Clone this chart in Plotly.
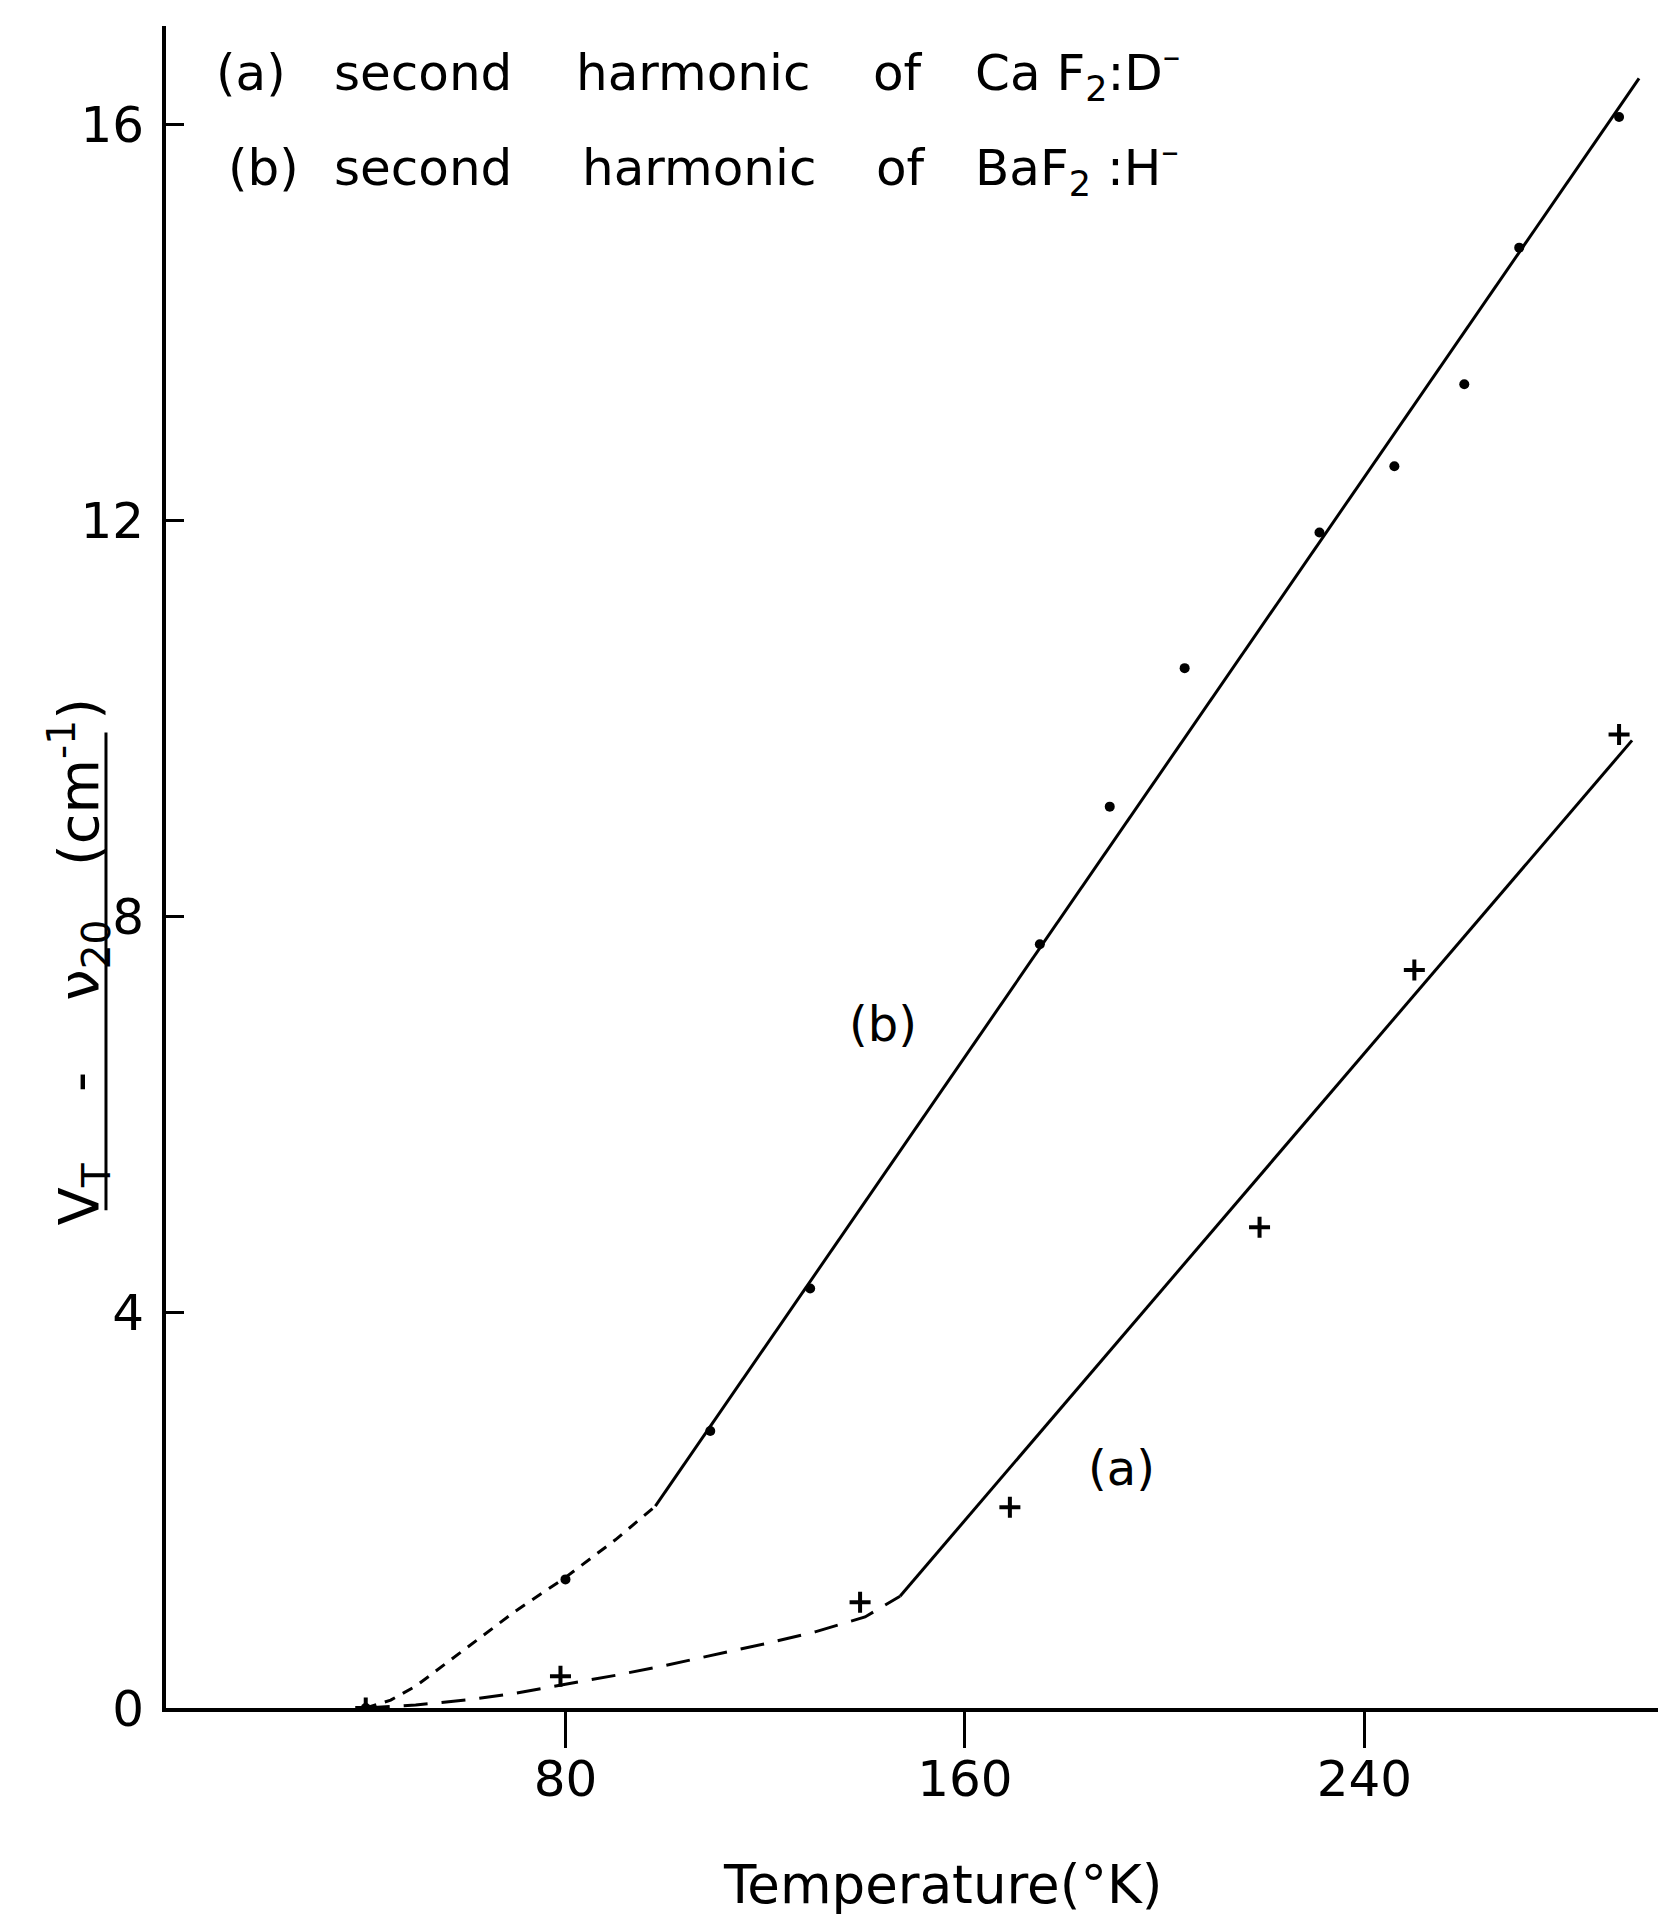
import plotly.graph_objects as go

# ---- data ----
x_ticks = [80, 160, 240]
y_ticks = [0, 4, 8, 12, 16]

# (b) second harmonic of BaF2:H-  (dots)
b_T = [40, 80, 109, 129, 175, 189, 204, 231, 246, 260, 271, 291]
b_dv = [0.0, 1.3, 2.8, 4.24, 7.72, 9.11, 10.51, 11.88, 12.55, 13.38, 14.76, 16.08]
# (a) second harmonic of CaF2:D-  (crosses)
a_T = [40, 79, 139, 169, 219, 250, 291]
a_dv = [0.0, 0.32, 1.07, 2.03, 4.86, 7.46, 9.84]

# drawn curves
b_dash_T = [40, 45, 50, 60, 70, 80, 90, 98]
b_dash_v = [0.0, 0.08, 0.22, 0.6, 0.98, 1.32, 1.7, 2.04]
b_fit_T = [98, 295]
b_fit_v = [2.04, 16.47]
a_dash_T = [40, 50, 60, 70, 80, 90, 100, 110, 120, 130, 140, 147]
a_dash_v = [0.0, 0.03, 0.08, 0.15, 0.24, 0.33, 0.43, 0.54, 0.65, 0.77, 0.92, 1.13]
a_fit_T = [147, 293.6]
a_fit_v = [1.13, 9.78]

FONT = "DejaVu Sans, sans-serif"
BLACK = "#000000"
NB = "\u00a0"

fig = go.Figure()
fig.add_trace(go.Scatter(x=b_dash_T, y=b_dash_v, mode="lines",
                         line=dict(color=BLACK, width=3, dash="11px,9px"), hoverinfo="skip"))
fig.add_trace(go.Scatter(x=b_fit_T, y=b_fit_v, mode="lines",
                         line=dict(color=BLACK, width=3), hoverinfo="skip"))
fig.add_trace(go.Scatter(x=a_dash_T, y=a_dash_v, mode="lines",
                         line=dict(color=BLACK, width=3, dash="24px,14px"), hoverinfo="skip"))
fig.add_trace(go.Scatter(x=a_fit_T, y=a_fit_v, mode="lines",
                         line=dict(color=BLACK, width=3), hoverinfo="skip"))
fig.add_trace(go.Scatter(x=b_T, y=b_dv, mode="markers",
                         marker=dict(symbol="circle", size=10, color=BLACK)))
fig.add_trace(go.Scatter(x=a_T, y=a_dv, mode="markers",
                         marker=dict(symbol="cross-thin", size=15,
                                     line=dict(color=BLACK, width=4), color=BLACK)))

# legend text written inside the plot (word by word, wide spacing as in the original)
words_a = [("(a)", 17.0), ("second", 51.5), ("harmonic", 105.5), ("of", 146.6),
           ("Ca" + NB + "F<sub>2</sub>:D<sup>–</sup>", 182.5)]
words_b = [("(b)", 19.5), ("second", 51.5), ("harmonic", 106.8), ("of", 147.1),
           ("BaF<sub>2</sub>" + NB + ":H<sup>–</sup>", 182.5)]
for txt, xx in words_a:
    fig.add_annotation(x=xx, y=16.52, xref="x", yref="y", text=txt, showarrow=False,
                       xanchor="center", yanchor="middle",
                       font=dict(family=FONT, size=50, color=BLACK))
for txt, xx in words_b:
    fig.add_annotation(x=xx, y=15.56, xref="x", yref="y", text=txt, showarrow=False,
                       xanchor="center", yanchor="middle",
                       font=dict(family=FONT, size=50, color=BLACK))

# curve labels
fig.add_annotation(x=143.6, y=6.91, text="(b)", showarrow=False,
                   xanchor="center", yanchor="middle",
                   font=dict(family=FONT, size=48, color=BLACK))
fig.add_annotation(x=191.3, y=2.43, text="(a)", showarrow=False,
                   xanchor="center", yanchor="middle",
                   font=dict(family=FONT, size=48, color=BLACK))

# axis titles
fig.add_annotation(x=155.6, y=-0.105, xref="x", yref="paper",
                   text="Temperature(°K)", showarrow=False,
                   xanchor="center", yanchor="middle",
                   font=dict(family=FONT, size=53, color=BLACK))
ytitle = ("V<sub>T</sub>" + NB * 4 + "-" + NB * 4 + "ν<sub>20</sub>" + NB * 3 +
          "(cm<sup>-1</sup>)")
fig.add_annotation(x=-0.058, y=7.54, xref="paper", yref="y", textangle=-90,
                   text=ytitle, showarrow=False, xanchor="center", yanchor="middle",
                   font=dict(family=FONT, size=56, color=BLACK))
fig.add_shape(type="line", xref="paper", yref="y", x0=-0.0398, x1=-0.0398,
              y0=5.03, y1=9.86, line=dict(color=BLACK, width=3))

fig.update_xaxes(range=[0, 302], tickvals=x_ticks, ticktext=[str(v) for v in x_ticks],
                 ticks="outside", ticklen=36, tickwidth=3, tickcolor=BLACK,
                 showline=True, linecolor=BLACK, linewidth=4, showgrid=False, zeroline=False,
                 ticklabelstandoff=-12,
                 tickfont=dict(family=FONT, size=50, color=BLACK))
fig.update_yaxes(range=[0, 17], tickvals=y_ticks, ticktext=[str(v) for v in y_ticks],
                 ticks="inside", ticklen=18, tickwidth=3, tickcolor=BLACK,
                 showline=True, linecolor=BLACK, linewidth=4, showgrid=False, zeroline=False,
                 ticklabelstandoff=8,
                 tickfont=dict(family=FONT, size=50, color=BLACK))

fig.update_layout(width=1666, height=1924, showlegend=False,
                  paper_bgcolor="white", plot_bgcolor="white",
                  margin=dict(l=158, r=0, t=18, b=224))

fig.write_html("out.html")
